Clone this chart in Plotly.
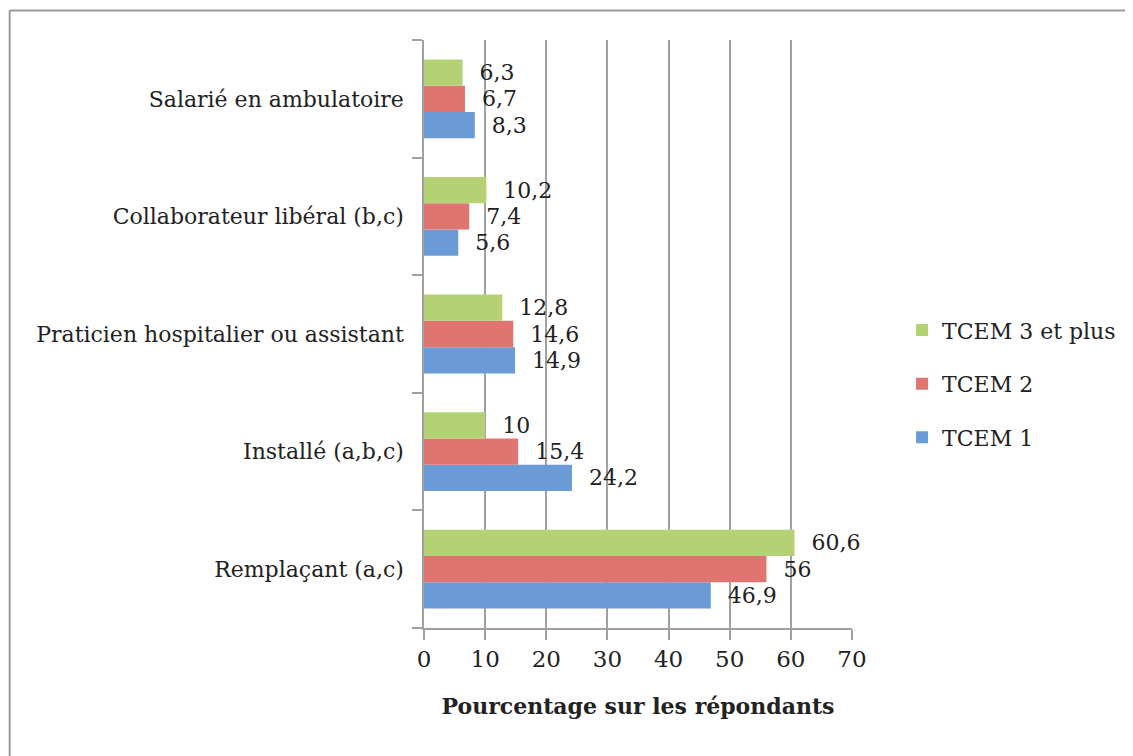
import plotly.graph_objects as go

# categories bottom -> top
categories = [
    "Remplaçant (a,c)",
    "Installé (a,b,c)",
    "Praticien hospitalier ou assistant",
    "Collaborateur libéral (b,c)",
    "Salarié en ambulatoire",
]
tcem1 = [46.9, 24.2, 14.9, 5.6, 8.3]
tcem2 = [56, 15.4, 14.6, 7.4, 6.7]
tcem3 = [60.6, 10, 12.8, 10.2, 6.3]
x_ticks = [0, 10, 20, 30, 40, 50, 60, 70]

FONT = "DejaVu Serif"


def fr(v):
    return "  " + "{:g}".format(v).replace(".", ",")


series = [
    ("TCEM 1", tcem1, "#6b9bd6", 3),
    ("TCEM 2", tcem2, "#df7470", 2),
    ("TCEM 3 et plus", tcem3, "#b4d273", 1),
]

fig = go.Figure()
for name, vals, color, rank in series:
    fig.add_trace(go.Bar(
        y=categories,
        x=vals,
        name=name,
        orientation="h",
        marker=dict(color=color, line=dict(width=0)),
        text=[fr(v) for v in vals],
        textposition="outside",
        cliponaxis=False,
        textfont=dict(family=FONT, size=22, color="#222222"),
        legendgroup=name,
        legendrank=rank,
    ))

# chart frame (left + top edges only, as in the source)
fig.add_shape(type="line", xref="paper", yref="paper",
              x0=-0.968, x1=-0.968, y0=1.05, y1=-0.3,
              line=dict(color="#9a9a9e", width=2))
fig.add_shape(type="line", xref="paper", yref="paper",
              x0=-0.968, x1=1.7, y0=1.05, y1=1.05,
              line=dict(color="#9a9a9e", width=2))

fig.update_layout(
    width=1133,
    height=756,
    margin=dict(l=416, r=289, t=32, b=136),
    paper_bgcolor="white",
    plot_bgcolor="white",
    barmode="group",
    bargap=0.33,
    bargroupgap=0,
    font=dict(family=FONT, size=22, color="#222222"),
    showlegend=True,
    legend=dict(
        x=1.117, y=0.542, xanchor="left", yanchor="top",
        traceorder="grouped", tracegroupgap=22,
        font=dict(family=FONT, size=22, color="#222222"),
        itemwidth=30,
    ),
    xaxis=dict(
        range=[0, 70],
        tickvals=x_ticks,
        showgrid=True,
        gridcolor="#a0a0a0",
        gridwidth=1.5,
        showline=True,
        linecolor="#a0a0a0",
        linewidth=1.5,
        ticks="outside",
        ticklen=10,
        tickcolor="#a0a0a0",
        tickwidth=1.5,
        zeroline=False,
        tickfont=dict(family=FONT, size=23, color="#222222"),
        title=dict(text="<b>Pourcentage sur les répondants</b>",
                   font=dict(family=FONT, size=22, color="#222222"),
                   standoff=27),
        fixedrange=True,
    ),
    yaxis=dict(
        categoryorder="array",
        categoryarray=categories,
        range=[-0.5, 4.5],
        showgrid=False,
        showline=True,
        linecolor="#a0a0a0",
        linewidth=1.5,
        ticks="outside",
        tickson="boundaries",
        ticklen=10,
        tickcolor="#a0a0a0",
        tickwidth=1.5,
        ticklabelstandoff=14,
        tickfont=dict(family=FONT, size=22, color="#222222"),
        fixedrange=True,
    ),
)

fig.write_html("out.html")
